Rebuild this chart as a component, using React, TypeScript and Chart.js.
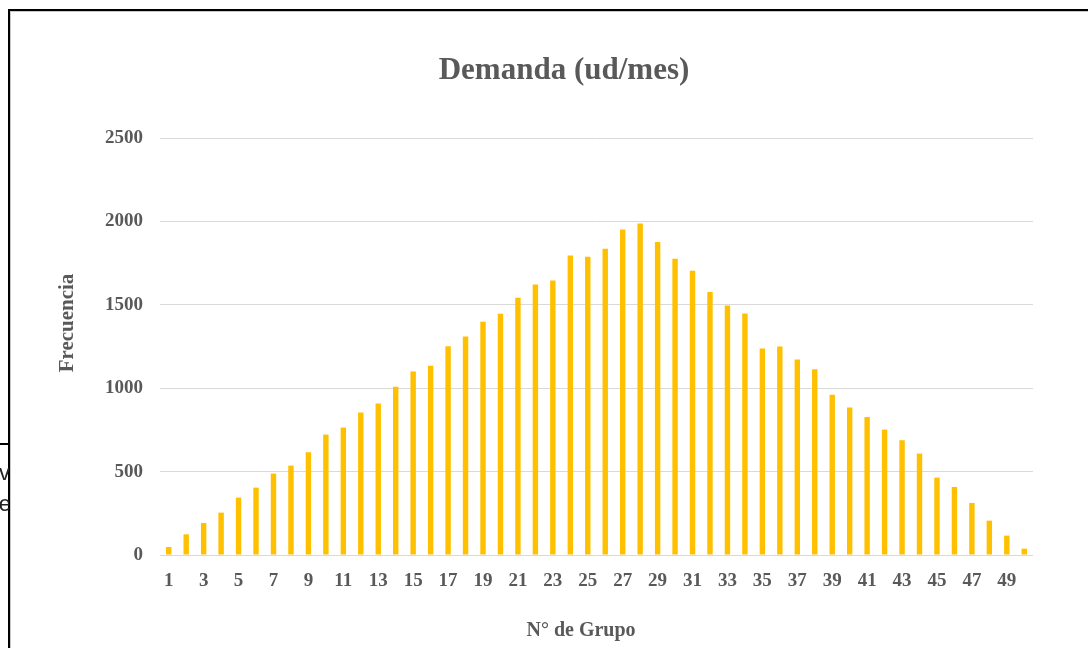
import React, { useEffect, useRef } from "react";
import { Chart, registerables } from "chart.js";

Chart.register(...registerables);

const chartTitle = "Demanda (ud/mes)";
const xAxisTitle = "N° de Grupo";
const yAxisTitle = "Frecuencia";

const categories = [
  "1", "2", "3", "4", "5", "6", "7", "8", "9", "10",
  "11", "12", "13", "14", "15", "16", "17", "18", "19", "20",
  "21", "22", "23", "24", "25", "26", "27", "28", "29", "30",
  "31", "32", "33", "34", "35", "36", "37", "38", "39", "40",
  "41", "42", "43", "44", "45", "46", "47", "48", "49", "50",
];

const frecuencia = [
  48, 124, 192, 254, 344, 404, 488, 536, 616, 722,
  764, 854, 908, 1008, 1100, 1134, 1252, 1310, 1398, 1446,
  1542, 1622, 1646, 1796, 1788, 1836, 1952, 1988, 1876, 1776,
  1704, 1576, 1496, 1448, 1238, 1250, 1172, 1114, 960, 884,
  828, 752, 688, 608, 464, 408, 312, 206, 116, 38,
];

const yTicks = [0, 500, 1000, 1500, 2000, 2500];

const TEXT = "#595959";
const SERIF = "'Liberation Serif', 'Times New Roman', serif";

const textPlugin = {
  id: "customTexts",
  afterDraw(chart: any) {
    const { ctx, chartArea } = chart;
    const cx = (chartArea.left + chartArea.right) / 2;
    const cy = (chartArea.top + chartArea.bottom) / 2;
    ctx.save();
    ctx.fillStyle = TEXT;
    ctx.textAlign = "center";
    ctx.textBaseline = "middle";
    ctx.font = `bold 31px ${SERIF}`;
    ctx.fillText(chartTitle, cx - 32.5, chartArea.top - 67);
    ctx.font = `bold 20px ${SERIF}`;
    ctx.fillText(xAxisTitle, cx - 15.5, chartArea.bottom + 75.5);
    ctx.translate(chartArea.left - 92, cy - 23.5);
    ctx.rotate(-Math.PI / 2);
    ctx.font = `bold 21px ${SERIF}`;
    ctx.fillText(yAxisTitle, 0, 0);
    ctx.restore();
  },
};

export default function App() {
  const ref = useRef<HTMLCanvasElement | null>(null);

  useEffect(() => {
    if (!ref.current) return;
    const chart = new Chart(ref.current, {
      type: "bar",
      data: {
        labels: categories,
        datasets: [
          {
            label: "Frecuencia",
            data: frecuencia,
            backgroundColor: "#FFC000",
            borderWidth: 0,
            categoryPercentage: 1,
            barPercentage: 0.31,
          },
        ],
      },
      options: {
        responsive: false,
        animation: false,
        layout: { padding: { top: 138, left: 0, right: 55, bottom: 0 } },
        plugins: {
          legend: { display: false },
          title: { display: false },
          tooltip: { enabled: false },
        },
        scales: {
          x: {
            offset: true,
            grid: { display: false, drawTicks: false },
            border: { display: false },
            ticks: {
              autoSkip: false,
              maxRotation: 0,
              padding: 15,
              color: TEXT,
              font: { family: SERIF, size: 19, weight: "bold" },
              callback: (_v: any, i: number) => (i % 2 === 0 ? categories[i] : ""),
            },
            afterFit: (scale: any) => {
              scale.height = 93;
            },
          },
          y: {
            min: 0,
            max: 2500,
            afterBuildTicks: (scale: any) => {
              scale.ticks = yTicks.map((v) => ({ value: v }));
            },
            grid: { color: "#D9D9D9", lineWidth: 1, drawTicks: false },
            border: { display: false },
            ticks: {
              padding: 17,
              color: TEXT,
              font: { family: SERIF, size: 19, weight: "bold" },
              callback: (v: any) => String(v),
            },
            afterFit: (scale: any) => {
              scale.width = 160;
            },
          },
        },
      },
      plugins: [textPlugin],
    });
    return () => chart.destroy();
  }, []);

  const clipBox = (top: number, text: string, right: number) => (
    <div
      style={{
        position: "absolute",
        left: 0,
        top,
        width: 9,
        height: 30,
        overflow: "hidden",
      }}
    >
      <span
        style={{
          position: "absolute",
          right,
          top: 0,
          whiteSpace: "nowrap",
          fontFamily: "'Liberation Sans', Arial, sans-serif",
          fontSize: 22,
          lineHeight: "24px",
          color: "#222",
        }}
      >
        {text}
      </span>
    </div>
  );

  return (
    <div
      style={{
        position: "absolute",
        left: 0,
        top: 0,
        width: 1088,
        height: 648,
        overflow: "hidden",
        background: "#fff",
      }}
    >
      <canvas
        ref={ref}
        width={1088}
        height={648}
        style={{ position: "absolute", left: 0, top: 0, display: "block" }}
      />
      <div
        style={{
          position: "absolute",
          left: 8,
          top: 9,
          width: 1200,
          height: 800,
          borderLeft: "2px solid #000",
          borderTop: "2px solid #000",
          boxShadow: "1px 1px 0 #c8c8c8 inset",
          pointerEvents: "none",
        }}
      />
      <div
        style={{
          position: "absolute",
          left: 0,
          top: 443,
          width: 9,
          height: 2,
          background: "#000",
        }}
      />
      {clipBox(461, "lv", -1)}
      {clipBox(492, "e", -2)}
    </div>
  );
}
